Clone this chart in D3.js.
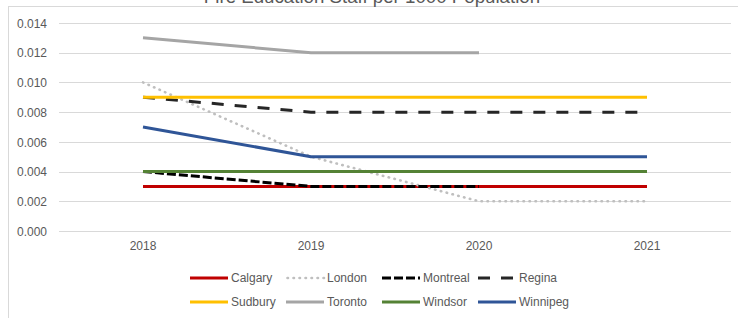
<!DOCTYPE html>
<meta charset="utf-8">
<style>
    body { margin: 0; background: #fff; }
    svg text { font-family: "Liberation Sans", Arial, sans-serif; fill: #595959; }
    .grid line { stroke: #d9d9d9; stroke-width: 1px; }
</style>
<body>
<script src="https://d3js.org/d3.v7.min.js"></script>
<script>
// data
var years = ["2018", "2019", "2020", "2021"];
var yTicks = [0, 0.002, 0.004, 0.006, 0.008, 0.010, 0.012, 0.014];

var calgary  = [0.003, 0.003, 0.003, 0.003];
var london   = [0.010, 0.005, 0.002, 0.002];
var montreal = [0.004, 0.003, 0.003, null];
var regina   = [0.009, 0.008, 0.008, 0.008];
var sudbury  = [0.009, 0.009, 0.009, 0.009];
var toronto  = [0.013, 0.012, 0.012, null];
var windsor  = [0.004, 0.004, 0.004, 0.004];
var winnipeg = [0.007, 0.005, 0.005, 0.005];

var series = [
    {name: "Calgary",  values: calgary,  color: "#c00000", dash: null},
    {name: "London",   values: london,   color: "#bfbfbf", dash: "0.5,5.5", cap: "round", w: 2.6},
    {name: "Montreal", values: montreal, color: "#000000", dash: "9,3"},
    {name: "Regina",   values: regina,   color: "#262626", dash: "12,11"},
    {name: "Sudbury",  values: sudbury,  color: "#ffc000", dash: null},
    {name: "Toronto",  values: toronto,  color: "#a5a5a5", dash: null},
    {name: "Windsor",  values: windsor,  color: "#548235", dash: null},
    {name: "Winnipeg", values: winnipeg, color: "#2f5597", dash: null}
];

var width = 738, height = 318;
var svg = d3.select("body").append("svg")
    .attr("width", width)
    .attr("height", height);

// chart frame (right/bottom sides are off screen)
svg.append("rect")
    .attr("x", 8.5).attr("y", 6.5)
    .attr("width", 800).attr("height", 400)
    .attr("fill", "none")
    .attr("stroke", "#d9d9d9");

// title, mostly cut off at the top like in the source
svg.append("text")
    .attr("x", 372).attr("y", 3)
    .attr("text-anchor", "middle")
    .style("font-size", "18.7px")
    .text("Fire Education Staff per 1000 Population");

var x = d3.scaleBand().domain(years).range([59, 731]);
var y = d3.scaleLinear().domain([0, 0.014]).range([231, 23]);

var grid = svg.append("g").attr("class", "grid");
grid.selectAll("line")
    .data(yTicks)
    .enter().append("line")
    .attr("x1", 59).attr("x2", 731)
    .attr("y1", function(d) { return Math.round(y(d)) + 0.5; })
    .attr("y2", function(d) { return Math.round(y(d)) + 0.5; });

var yAxis = svg.append("g")
    .attr("transform", "translate(47,0)")
    .call(d3.axisLeft(y).tickValues(yTicks).tickFormat(d3.format(".3f")).tickSize(0).tickPadding(0));
yAxis.select(".domain").remove();
yAxis.selectAll("text").style("font-size", "12px").attr("dy", "0.35em").attr("fill", "#595959");

var xAxis = svg.append("g")
    .attr("transform", "translate(0,231)")
    .call(d3.axisBottom(x).tickSize(0).tickPadding(10));
xAxis.select(".domain").remove();
xAxis.selectAll("text").style("font-size", "12px").attr("fill", "#595959");

var line = d3.line()
    .defined(function(d) { return d != null; })
    .x(function(d, i) { return x(years[i]) + x.bandwidth() / 2; })
    .y(function(d) { return y(d); });

svg.selectAll(".series")
    .data(series)
    .enter().append("path")
    .attr("class", "series")
    .attr("d", function(d) { return line(d.values); })
    .attr("fill", "none")
    .attr("stroke", function(d) { return d.color; })
    .attr("stroke-width", function(d) { return d.w || 3; })
    .attr("stroke-linecap", function(d) { return d.cap || "butt"; })
    .attr("stroke-linejoin", "round")
    .attr("stroke-dasharray", function(d) { return d.dash; });

// legend
var legend = svg.append("g");
var item = legend.selectAll("g")
    .data(series)
    .enter().append("g")
    .attr("transform", function(d, i) {
        return "translate(" + (190 + (i % 4) * 96) + "," + (i < 4 ? 278 : 302) + ")";
    });
item.append("line")
    .attr("x1", function(d) { return d.cap ? 1.5 : 0; })
    .attr("x2", 38)
    .attr("stroke", function(d) { return d.color; })
    .attr("stroke-width", function(d) { return d.w || 3; })
    .attr("stroke-linecap", function(d) { return d.cap || "butt"; })
    .attr("stroke-dasharray", function(d) { return d.dash; });
item.append("text")
    .attr("x", 41).attr("dy", "0.35em")
    .style("font-size", "12px")
    .text(function(d) { return d.name; });
</script>
</body>
